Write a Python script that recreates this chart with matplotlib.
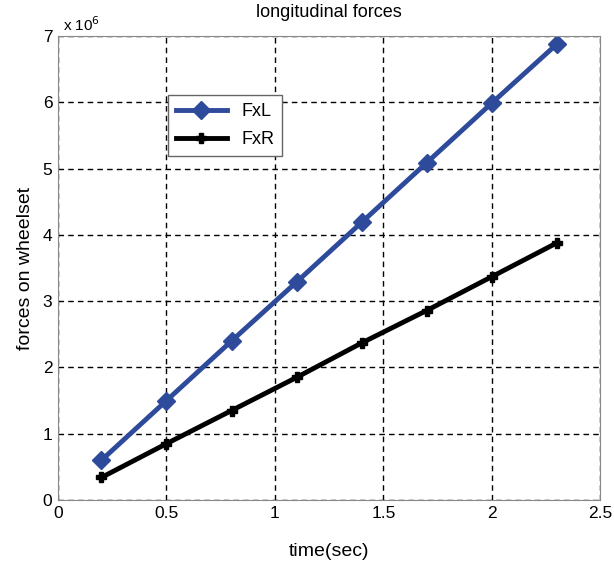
import matplotlib
matplotlib.use('Agg')
import matplotlib.pyplot as plt

plt.rcParams['font.family'] = ['Liberation Sans', 'DejaVu Sans']

# data
t = [0.2, 0.5, 0.8, 1.1, 1.4, 1.7, 2.0, 2.3]
fxl = [0.60, 1.50, 2.40, 3.29, 4.19, 5.09, 5.99, 6.88]
fxr = [0.34, 0.85, 1.35, 1.85, 2.37, 2.86, 3.37, 3.88]

fig = plt.figure(figsize=(6.14, 5.65), dpi=100)
ax = fig.add_axes([0.0945, 0.115, 0.883, 0.821])

ax.plot(t, fxl, color='#2e4a9a', lw=3.5, marker='D', markersize=9, label='FxL')
ax.plot(t, fxr, color='black', lw=3.5, marker='P', markersize=7, label='FxR')

ax.set_xlim(0, 2.5)
ax.set_ylim(0, 7)
ax.set_xticks([0, 0.5, 1, 1.5, 2, 2.5])
ax.set_xticklabels(['0', '0.5', '1', '1.5', '2', '2.5'])
ax.set_yticks(range(8))
ax.grid(True, color='black', linestyle=(0, (4, 3)), linewidth=1.0)
ax.tick_params(direction='in', length=0, labelsize=12.5, pad=4)
for s in ax.spines.values():
    s.set_color('#888888')

ax.text(0.01, 1.005, r'x 10$^6$', transform=ax.transAxes, fontsize=11, va='bottom')
ax.set_title('longitudinal forces', fontsize=13, pad=14)
ax.set_xlabel('time(sec)', fontsize=14, labelpad=16)
ax.set_ylabel('forces on wheelset', fontsize=14, labelpad=6)

leg = ax.legend(loc='upper left', bbox_to_anchor=(0.203, 0.873), borderaxespad=0,
                fontsize=13, fancybox=False, framealpha=1, edgecolor='#666666',
                handlelength=2.8, borderpad=0.45, labelspacing=0.6)

fig.savefig('out.png', dpi=100)
